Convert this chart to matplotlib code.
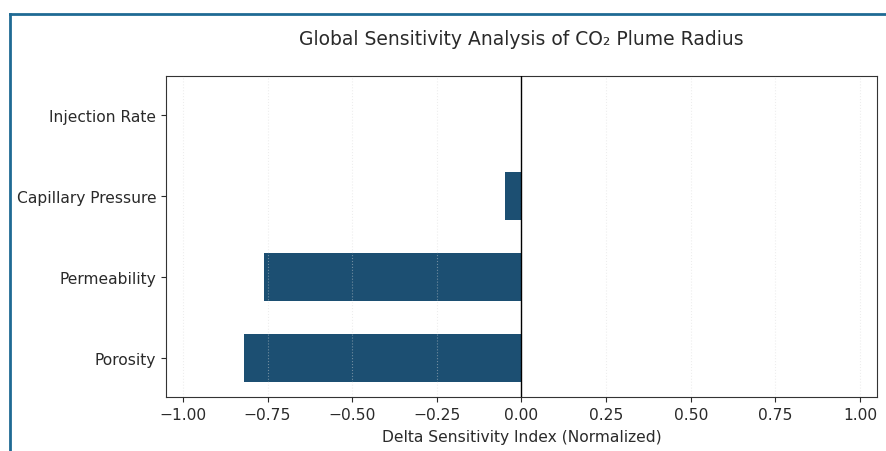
import matplotlib
matplotlib.use("Agg")
import matplotlib.pyplot as plt
from matplotlib.lines import Line2D

categories = ["Porosity", "Permeability", "Capillary Pressure", "Injection Rate"]
delta_values = [-0.82, -0.76, -0.05, 0.0]
x_ticks = [-1.00, -0.75, -0.50, -0.25, 0.00, 0.25, 0.50, 0.75, 1.00]

plt.rcParams['font.family'] = ['DejaVu Sans']

fig = plt.figure(figsize=(8.86, 4.52), dpi=100)
ax = fig.add_axes([0.1874, 0.1195, 0.8024, 0.7101])

ax.barh(categories, delta_values, height=0.6, color="#1c4f72", zorder=1)
ax.axvline(0, color="black", linewidth=1.0, zorder=3)
ax.set_xlim(-1.05, 1.05)
ax.set_xticks(x_ticks)
ax.set_xticklabels([f"{v:.2f}".replace("-", "\u2212") for v in x_ticks])
ax.grid(axis="x", linestyle=":", color="#d8d8d8", linewidth=0.8, alpha=0.45, zorder=2)
ax.set_axisbelow(False)
ax.tick_params(labelsize=11.2, colors="#2a2a2a")
for s in ax.spines.values():
    s.set_color("#333333")

ax.set_xlabel("Delta Sensitivity Index (Normalized)", fontsize=11.2, color="#2a2a2a", labelpad=5)
ax.set_title("Global Sensitivity Analysis of CO\u2082 Plume Radius", fontsize=13.5, pad=23, color="#2a2a2a")

# blue frame of the screenshot
frame_color = "#1f6a94"
fig.add_artist(Line2D([10/886, 10/886], [0, 1 - 15/452], transform=fig.transFigure, color=frame_color, linewidth=2))
fig.add_artist(Line2D([10/886, 1], [1 - 15/452, 1 - 15/452], transform=fig.transFigure, color=frame_color, linewidth=2))

fig.savefig("out.png", dpi=100)
